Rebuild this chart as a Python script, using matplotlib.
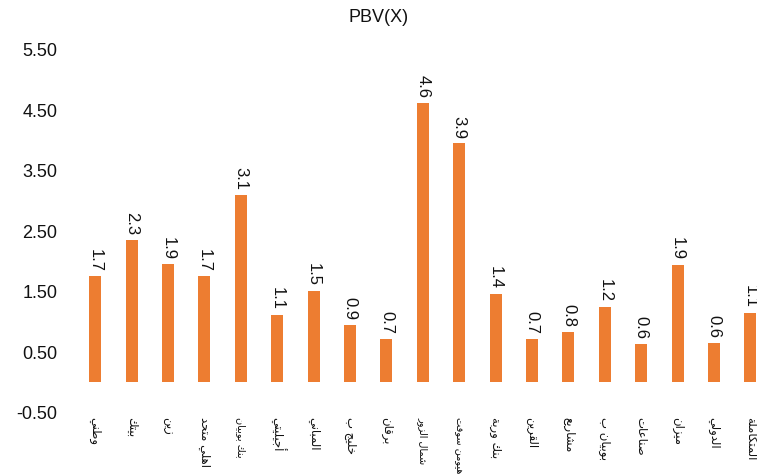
import matplotlib
matplotlib.use("Agg")
import matplotlib.pyplot as plt

categories = ["وطني", "بيتك", "زين", "اهلي متحد", "بنك بوبيان", "أجيليتي", "المباني",
              "خليج ب", "برقان", "شمال الزور", "هيومن سوفت", "بنك وربة", "القرين",
              "مشاريع", "بوبيان ب", "صناعات", "ميزان", "الدولي", "المتكاملة"]
values = [1.74, 2.34, 1.94, 1.74, 3.09, 1.11, 1.50, 0.94, 0.71, 4.61, 3.94, 1.45,
          0.71, 0.83, 1.24, 0.63, 1.93, 0.64, 1.14]
yticks = [-0.5, 0.5, 1.5, 2.5, 3.5, 4.5, 5.5]
title = "PBV(X)"

# --- minimal Arabic shaping (presentation forms) ---
FORMS = {
    'ا': (0xFE8D, 0xFE8E), 'أ': (0xFE83, 0xFE84), 'إ': (0xFE87, 0xFE88), 'آ': (0xFE81, 0xFE82),
    'ب': (0xFE8F, 0xFE90, 0xFE91, 0xFE92), 'ت': (0xFE95, 0xFE96, 0xFE97, 0xFE98),
    'ة': (0xFE93, 0xFE94), 'ث': (0xFE99, 0xFE9A, 0xFE9B, 0xFE9C),
    'ج': (0xFE9D, 0xFE9E, 0xFE9F, 0xFEA0), 'ح': (0xFEA1, 0xFEA2, 0xFEA3, 0xFEA4),
    'خ': (0xFEA5, 0xFEA6, 0xFEA7, 0xFEA8), 'د': (0xFEA9, 0xFEAA), 'ذ': (0xFEAB, 0xFEAC),
    'ر': (0xFEAD, 0xFEAE), 'ز': (0xFEAF, 0xFEB0),
    'س': (0xFEB1, 0xFEB2, 0xFEB3, 0xFEB4), 'ش': (0xFEB5, 0xFEB6, 0xFEB7, 0xFEB8),
    'ص': (0xFEB9, 0xFEBA, 0xFEBB, 0xFEBC), 'ض': (0xFEBD, 0xFEBE, 0xFEBF, 0xFEC0),
    'ط': (0xFEC1, 0xFEC2, 0xFEC3, 0xFEC4), 'ظ': (0xFEC5, 0xFEC6, 0xFEC7, 0xFEC8),
    'ع': (0xFEC9, 0xFECA, 0xFECB, 0xFECC), 'غ': (0xFECD, 0xFECE, 0xFECF, 0xFED0),
    'ف': (0xFED1, 0xFED2, 0xFED3, 0xFED4), 'ق': (0xFED5, 0xFED6, 0xFED7, 0xFED8),
    'ك': (0xFED9, 0xFEDA, 0xFEDB, 0xFEDC), 'ل': (0xFEDD, 0xFEDE, 0xFEDF, 0xFEE0),
    'م': (0xFEE1, 0xFEE2, 0xFEE3, 0xFEE4), 'ن': (0xFEE5, 0xFEE6, 0xFEE7, 0xFEE8),
    'ه': (0xFEE9, 0xFEEA, 0xFEEB, 0xFEEC), 'و': (0xFEED, 0xFEEE),
    'ي': (0xFEF1, 0xFEF2, 0xFEF3, 0xFEF4), 'ى': (0xFEEF, 0xFEF0),
}
LAMALEF = {'ا': (0xFEFB, 0xFEFC), 'أ': (0xFEF7, 0xFEF8), 'إ': (0xFEF9, 0xFEFA), 'آ': (0xFEF5, 0xFEF6)}


def shape(word):
    def dual(c):
        return c in FORMS and len(FORMS[c]) == 4
    chars = list(word)
    n = len(chars)
    res = []
    i = 0
    while i < n:
        c = chars[i]
        if c not in FORMS:
            res.append(c)
            i += 1
            continue
        prev = chars[i - 1] if i > 0 else None
        conn_prev = prev is not None and dual(prev)
        if c == 'ل' and i + 1 < n and chars[i + 1] in LAMALEF:
            iso, fin = LAMALEF[chars[i + 1]]
            res.append(chr(fin if conn_prev else iso))
            i += 2
            continue
        nxt = chars[i + 1] if i + 1 < n else None
        conn_next = dual(c) and nxt is not None and nxt in FORMS
        f = FORMS[c]
        if conn_prev and conn_next:
            code = f[3]
        elif conn_prev:
            code = f[1]
        elif conn_next:
            code = f[2]
        else:
            code = f[0]
        res.append(chr(code))
        i += 1
    return ''.join(reversed(res))


plt.rcParams['font.family'] = ['Liberation Sans', 'DejaVu Sans']

fig = plt.figure(figsize=(7.57, 4.77), dpi=100)
ax = fig.add_axes([77 / 757, 1 - 413 / 477, 680 / 757, (413 - 50) / 477])

x = list(range(len(categories)))
color = '#ED7D31'
ax.bar(x, values, width=0.33, color=color, zorder=2)
for xi, v in zip(x, values):
    ax.annotate(f"{v:.1f}", (xi, v), xytext=(0, 4), textcoords='offset points',
                rotation=270, ha='center', va='bottom', fontsize=12, color='#111111')

ax.set_ylim(-0.5, 5.5)
ax.set_xlim(-0.5, -0.5 + 680 / 36.4)
ax.set_yticks(yticks)
ax.set_yticklabels([f"{t:.2f}" for t in yticks], fontsize=13, color='#111111')
ax.set_xticks(x)
ax.set_xticklabels([shape(c) for c in categories], rotation=270, fontsize=8.4,
                   family=['DejaVu Sans'], va='top', ha='center', color='#111111')
for lbl in ax.get_xticklabels():
    if len(lbl.get_text()) >= 10:
        lbl.set_fontsize(7.0)
ax.tick_params(axis='both', length=0)
ax.tick_params(axis='x', pad=3)
ax.tick_params(axis='y', pad=14)
for sp in ax.spines.values():
    sp.set_visible(False)

fig.text(0.5, 1 - 18 / 477, title, ha='center', va='center', fontsize=13, color='#111111')

fig.savefig("out.png", dpi=100)
